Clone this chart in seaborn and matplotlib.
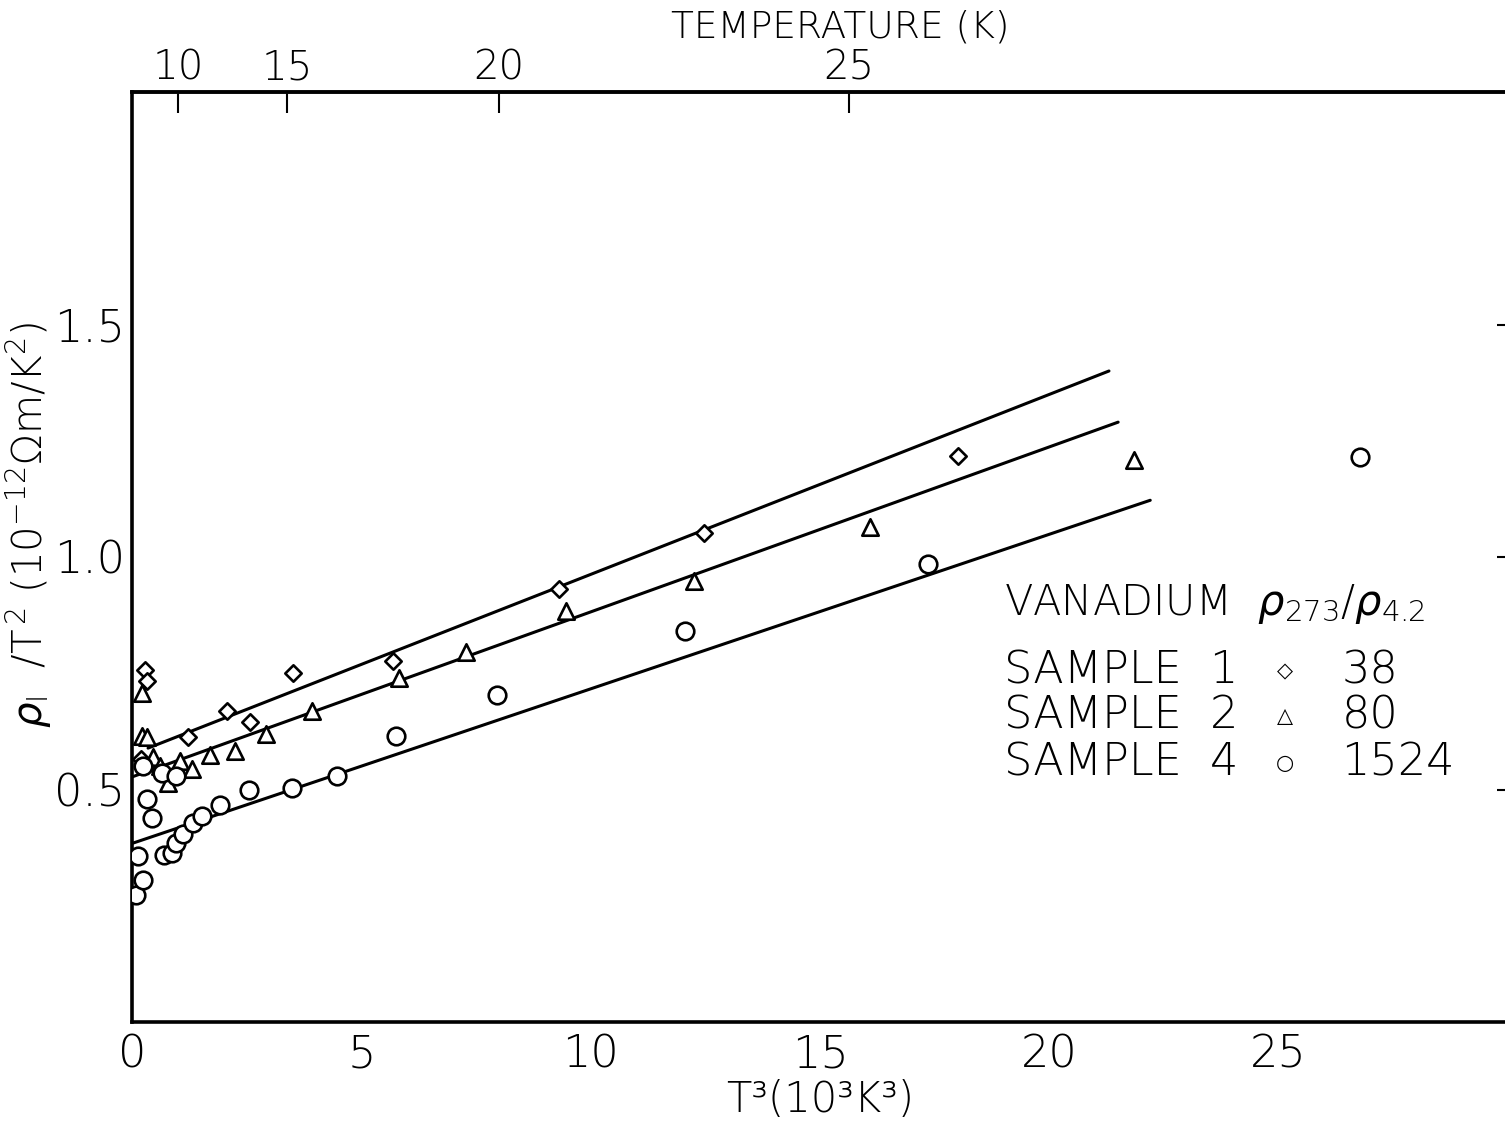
import matplotlib
matplotlib.use("Agg")
import matplotlib.pyplot as plt
import seaborn as sns
import pandas as pd
import numpy as np

# ---- data ----
s1_x = [0.28, 0.33, 0.20, 0.45, 0.60, 0.90, 1.23, 2.08, 2.58, 3.51, 5.68, 9.30, 12.47, 18.00]
s1_y = [0.758, 0.734, 0.565, 0.555, 0.545, 0.530, 0.613, 0.669, 0.646, 0.751, 0.776, 0.931, 1.052, 1.218]

s2_x = [0.22, 0.22, 0.33, 0.45, 0.60, 0.79, 1.04, 1.30, 1.69, 2.25, 2.92, 3.93, 5.82, 7.28, 9.46, 12.26, 16.09, 21.85]
s2_y = [0.707, 0.615, 0.613, 0.570, 0.550, 0.514, 0.561, 0.545, 0.574, 0.583, 0.619, 0.669, 0.740, 0.795, 0.884, 0.948, 1.065, 1.208]

s4_x = [0.09, 0.23, 0.14, 0.32, 0.44, 0.25, 0.65, 0.95, 0.69, 0.87, 0.96, 1.12, 1.33, 1.52, 1.92, 2.54, 3.49, 4.47, 5.76, 7.95, 12.05, 17.35, 26.77]
s4_y = [0.274, 0.305, 0.357, 0.480, 0.439, 0.550, 0.535, 0.530, 0.359, 0.364, 0.384, 0.405, 0.428, 0.444, 0.467, 0.498, 0.504, 0.530, 0.615, 0.703, 0.840, 0.985, 1.215]

fit1_x = [0.35, 21.3]
fit1_y = [0.589, 1.400]
fit2_x = [0.0, 21.5]
fit2_y = [0.527, 1.290]
fit4_x = [0.0, 22.2]
fit4_y = [0.384, 1.122]

x_ticks = [0, 5, 10, 15, 20, 25]
y_ticks = [0.5, 1.0, 1.5]
temp_labels = [10, 15, 20, 25]

samples = ["SAMPLE 1", "SAMPLE 2", "SAMPLE 4"]
ratios = ["38", "80", "1524"]

# ---- style ----
sns.set_style("white")
plt.rcParams['font.family'] = ['DejaVu Sans', 'Noto Sans']
plt.rcParams['font.weight'] = 'light'
plt.rcParams['axes.labelweight'] = 'light'
plt.rcParams['mathtext.fontset'] = 'custom'
plt.rcParams['mathtext.rm'] = 'DejaVu Sans:light'
plt.rcParams['mathtext.it'] = 'DejaVu Sans:italic:light'
plt.rcParams['mathtext.bf'] = 'DejaVu Sans:bold'
plt.rcParams['mathtext.sf'] = 'DejaVu Sans:light'
plt.rcParams['text.color'] = 'black'
plt.rcParams['axes.labelcolor'] = 'black'
plt.rcParams['xtick.color'] = 'black'
plt.rcParams['ytick.color'] = 'black'

fig = plt.figure(figsize=(15.05, 11.25), dpi=100)
ax = fig.add_axes([132 / 1505, 1 - 1022 / 1125, (1505 - 132) / 1505 + 0.002, (1022 - 92) / 1125])

lw = 2.2
mk = dict(facecolor="white", edgecolor="black", linewidth=1.9, zorder=3, legend=False)

# fitted lines
for fx, fy in [(fit1_x, fit1_y), (fit2_x, fit2_y), (fit4_x, fit4_y)]:
    sns.lineplot(x=fx, y=fy, ax=ax, color="black", linewidth=lw, zorder=2)

sns.scatterplot(x=s1_x, y=s1_y, ax=ax, marker="D", s=70, **mk)
sns.scatterplot(x=s2_x, y=s2_y, ax=ax, marker="^", s=140, **mk)
sns.scatterplot(x=s4_x, y=s4_y, ax=ax, marker="o", s=160, **mk)

ax.set_xlim(0, 30)
ax.set_ylim(0, 2.0)

for side in ["left", "bottom", "top"]:
    ax.spines[side].set_linewidth(2.6)
    ax.spines[side].set_color("black")
ax.spines["right"].set_visible(False)

ax.set_xticks(x_ticks)
ax.set_xticklabels([str(v) for v in x_ticks])
ax.set_yticks(y_ticks)
ax.set_yticklabels(["0.5", "1.0", "1.5"])
ax.tick_params(axis="x", direction="in", length=18, width=1.5, pad=8, labelsize=32)
ax.tick_params(axis="y", direction="in", length=8, width=1.5, pad=5, labelsize=32,
               right=True, labelright=False)

ax.set_xlabel("T³(10³K³)", fontsize=30, labelpad=2, fontweight="light")
ax.set_ylabel(r"$\rho_{\rm I}$  /T$^{\,2}$ (10$^{-12}$$\Omega$m/K$^2$)", fontsize=29, va="center",
              fontweight="light")
ax.yaxis.set_label_coords(-0.075, 0.535)

# top temperature axis
top = ax.secondary_xaxis("top")
top.set_xticks([t ** 3 / 1000 for t in temp_labels])
top.set_xticklabels([str(t) for t in temp_labels])
top.tick_params(direction="in", length=15, width=1.5, pad=3, labelsize=29)
top.spines["top"].set_linewidth(2.6)
ax.text(0.515, 1.070, "TEMPERATURE (K)", transform=ax.transAxes, ha="center", va="center", fontsize=27)

# key
kx = 0.634
ax.text(kx, 0.450, r"VANADIUM  $\rho_{273}$/$\rho_{4.2}$", transform=ax.transAxes, fontsize=30, va="center")
markers_txt = ["◇", "△", "○"]
rows_y = [0.377, 0.329, 0.279]
for lab, mt, r, yy in zip(samples, markers_txt, ratios, rows_y):
    ax.text(kx, yy, lab.replace(" ", "  "), transform=ax.transAxes, fontsize=32, va="center")
    ax.text(0.838, yy, mt, transform=ax.transAxes, fontsize=15, va="center", ha="center",
            family=["DejaVu Sans"], fontweight="normal")
    ax.text(0.879, yy, r, transform=ax.transAxes, fontsize=32, va="center")

fig.savefig("out.png", dpi=100)
